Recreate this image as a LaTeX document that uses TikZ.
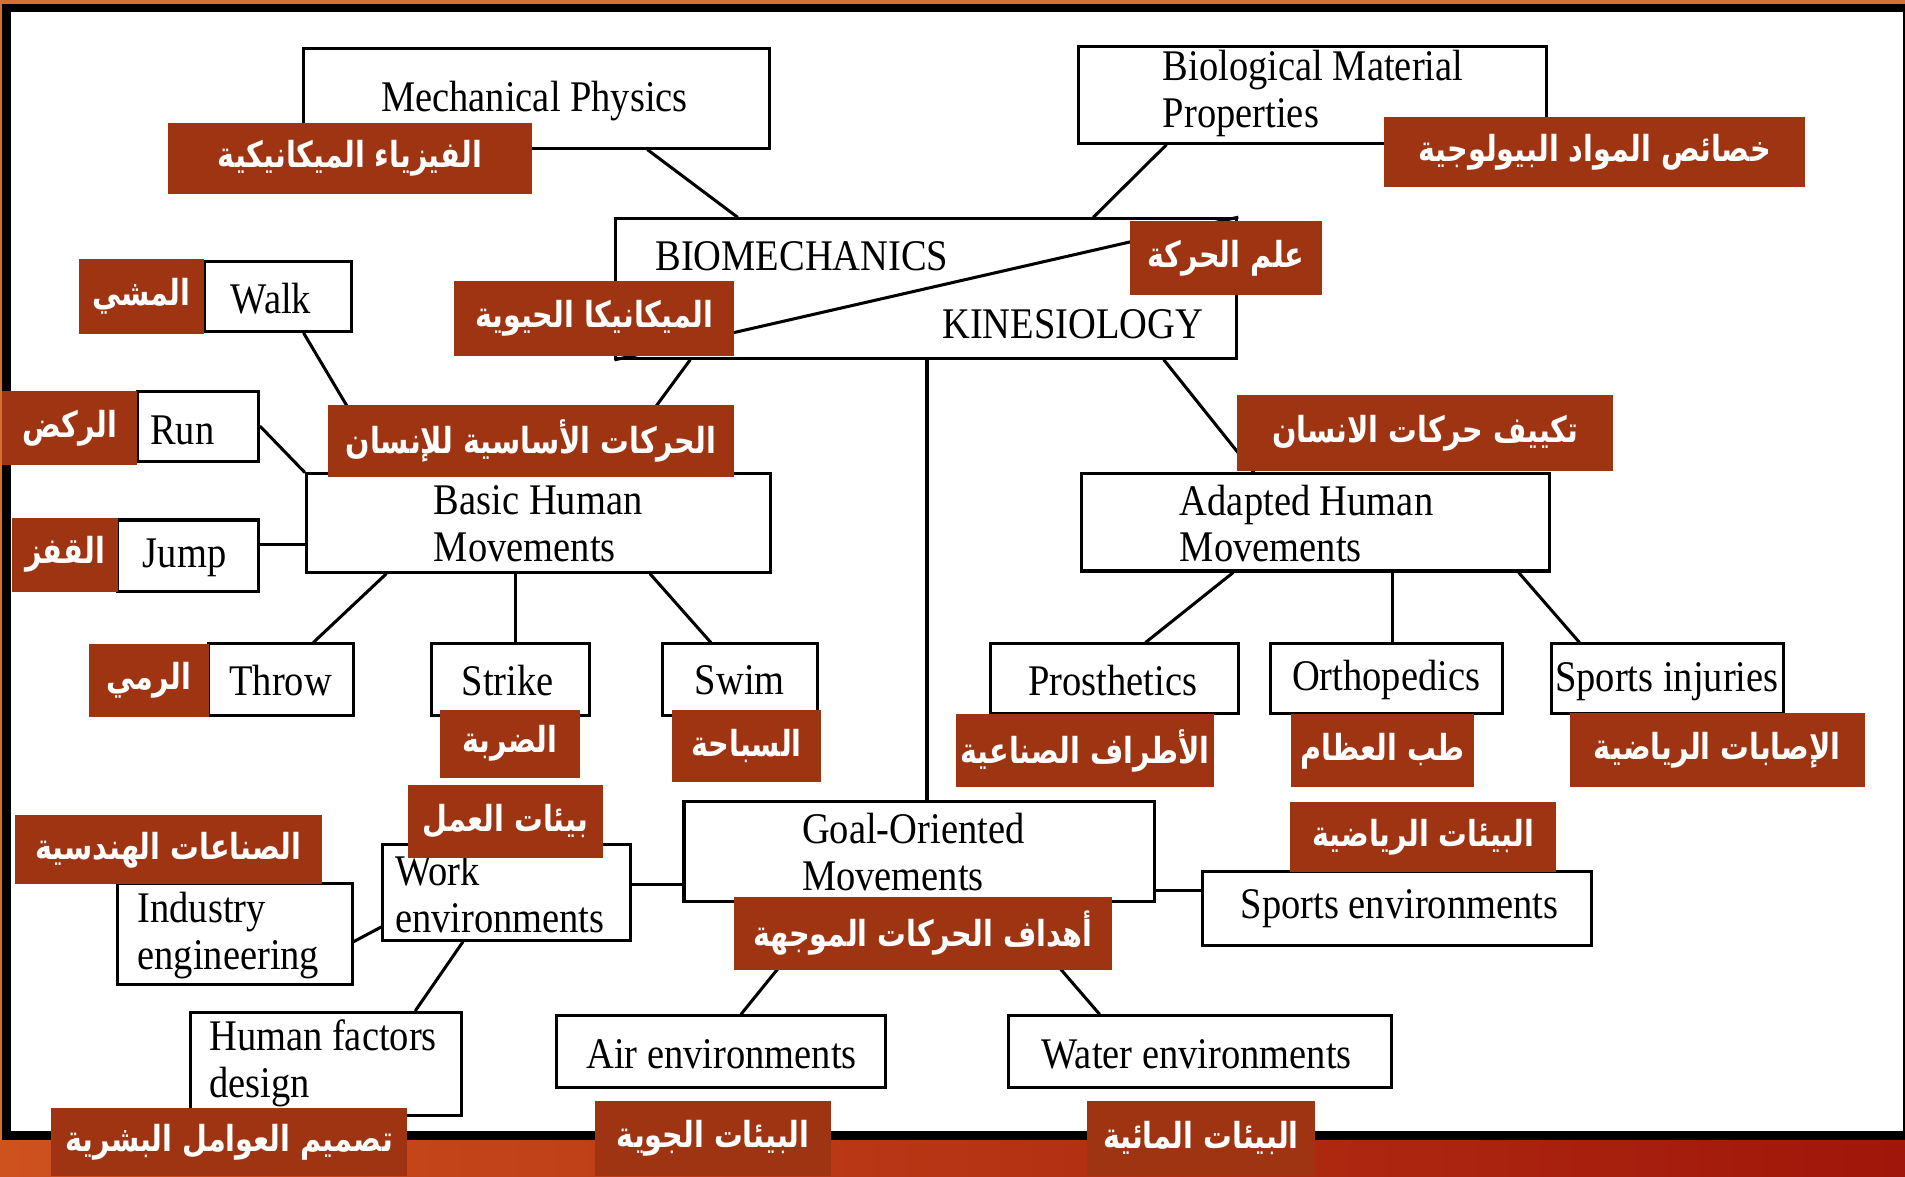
\documentclass[tikz,border=0pt]{standalone}
\usepackage{fontspec}
\setmainfont{Liberation Serif}[FakeStretch=0.88]
\newfontfamily\arabicfont[Script=Arabic, FakeStretch=0.8]{DejaVu Sans}
\TeXXeTstate=1
\newcommand\artxt[1]{{\arabicfont\bfseries\beginR #1\endR}}
\definecolor{labred}{RGB}{158,52,18}
\definecolor{topor}{RGB}{214,112,50}
\definecolor{botl}{RGB}{206,82,30}
\definecolor{botr}{RGB}{160,22,10}
\pgfdeclarelayer{bg}
\pgfdeclarelayer{lines}
\pgfsetlayers{bg,lines,main}
\tikzset{
  box/.style={draw, line width=2.5pt, fill=white, inner sep=0pt},
  btxt/.style={inner sep=0pt, font=\fontsize{36}{38.5}\selectfont},
  btxtl/.style={btxt, anchor=west, align=left},
  lab/.style={fill=labred, text=white, inner sep=0pt, font=\fontsize{29.5}{32}\selectfont},
  conn/.style={line width=2.5pt, line cap=round},
}
\begin{document}
\begin{tikzpicture}[x=1pt,y=-1pt]
\useasboundingbox (0,0) rectangle (1568,968);
\begin{pgfonlayer}{bg}
\fill[black] (0,0) rectangle (1568,968);
\fill[topor] (0,0) rectangle (1568,3);
\fill[topor] (0,0) rectangle (2,968);
\shade[left color=botl, right color=botr] (0,939) rectangle (1568,968);
\fill[white] (9,10) rectangle (1566,931);
\end{pgfonlayer}

% boxes
\node[box, minimum width=383pt, minimum height=82pt] (mech) at (441.5,81) {};
\node[btxt] (mecht) at (440,83) {Mechanical Physics};
\node[box, minimum width=385pt, minimum height=80pt] (biom) at (1080.5,78) {};
\node[btxtl] (biomt) at (957,77) {Biological Material\\Properties};
\node[box, minimum width=511pt, minimum height=115pt] (bio) at (762.5,237.5) {};
\node[btxt] (biot1) at (660,211) {BIOMECHANICS};
\node[btxt] (biot2) at (883,267) {KINESIOLOGY};
\node[box, minimum width=121pt, minimum height=58pt] (walk) at (228.5,244) {};
\node[btxt] (walkt) at (223,246) {Walk};
\node[box, minimum width=100pt, minimum height=58pt] (run) at (163,351) {};
\node[btxt] (runt) at (150,354) {Run};
\node[box, minimum width=116pt, minimum height=59pt] (jump) at (155,457.5) {};
\node[btxt] (jumpt) at (152,459) {Jump};
\node[box, minimum width=382pt, minimum height=81pt] (basic) at (443,430.5) {};
\node[btxtl] (basict) at (357,431) {Basic Human\\Movements};
\node[box, minimum width=119pt, minimum height=59pt] (throw) at (231.5,559.5) {};
\node[btxt] (throwt) at (231,560) {Throw};
\node[box, minimum width=130pt, minimum height=59pt] (strike) at (420,559.5) {};
\node[btxt] (striket) at (418,560) {Strike};
\node[box, minimum width=128pt, minimum height=59pt] (swim) at (609,559.5) {};
\node[btxt] (swimt) at (609,560) {Swim};
\node[box, minimum width=385pt, minimum height=80pt] (adapt) at (1082.5,430) {};
\node[btxtl] (adaptt) at (971,431) {Adapted Human\\Movements};
\node[box, minimum width=204pt, minimum height=57pt] (prost) at (917,558.5) {};
\node[btxt] (prostt) at (916,560) {Prosthetics};
\node[box, minimum width=191pt, minimum height=57pt] (ortho) at (1141.5,558.5) {};
\node[btxt] (orthot) at (1141,560) {Orthopedics};
\node[box, minimum width=191pt, minimum height=57pt] (sinj) at (1372.5,558.5) {};
\node[btxt] (sinjt) at (1372,561) {Sports injuries};
\node[box, minimum width=387pt, minimum height=82pt] (goal) at (756.5,701) {};
\node[btxtl] (goalt) at (660,701) {Goal-Oriented\\Movements};
\node[box, minimum width=204pt, minimum height=79pt] (work) at (417,734.5) {};
\node[btxtl] (workt) at (325,736) {Work\\environments};
\node[box, minimum width=193pt, minimum height=83pt] (indus) at (193.5,768.5) {};
\node[btxtl] (indust) at (113,770) {Industry\\engineering};
\node[box, minimum width=223pt, minimum height=85pt] (hfd) at (268.5,875.5) {};
\node[btxtl] (hfdt) at (172,875) {Human factors\\design};
\node[box, minimum width=320pt, minimum height=61pt] (senv) at (1150,747.5) {};
\node[btxt] (senvt) at (1152,748) {Sports environments};
\node[box, minimum width=271pt, minimum height=59pt] (air) at (593.5,865.5) {};
\node[btxt] (airt) at (594,868) {Air environments};
\node[box, minimum width=315pt, minimum height=59pt] (water) at (987.5,865.5) {};
\node[btxt] (watert) at (985,868) {Water environments};

% connectors
\begin{pgfonlayer}{lines}
\draw[conn] ([xshift=91.5pt]mech.south) -- ([xshift=-155.5pt]bio.north);
\draw[conn] ([xshift=-120.5pt]biom.south) -- ([xshift=137.5pt]bio.north);
\draw[conn] ([xshift=-194.5pt]bio.south) -- ([xshift=57pt]basic.north);
\draw[conn] ([xshift=195.5pt]bio.south) -- ([xshift=-50.5pt]adapt.north);
\draw[conn] ([xshift=0.5pt]bio.south) -- ([xshift=6.5pt]goal.north);
\draw[conn] ([xshift=21.5pt]walk.south) -- ([xshift=-125pt]basic.north);
\draw[conn] (run.east) -- (basic.north west);
\draw[conn] ([yshift=9.5pt]jump.east) -- ([yshift=-17.5pt]basic.west);
\draw[conn] ([xshift=-125pt]basic.south) -- ([xshift=26.5pt]throw.north);
\draw[conn] ([xshift=-19pt]basic.south) -- ([xshift=4pt]strike.north);
\draw[conn] ([xshift=92pt]basic.south) -- ([xshift=-24pt]swim.north);
\draw[conn] ([xshift=-67.5pt]adapt.south) -- ([xshift=26pt]prost.north);
\draw[conn] ([xshift=63.5pt]adapt.south) -- ([xshift=4.5pt]ortho.north);
\draw[conn] ([xshift=167.5pt]adapt.south) -- ([xshift=-72.5pt]sinj.north);
\draw[conn] ([yshift=-27pt]goal.west) -- ([yshift=6.5pt]work.east);
\draw[conn] ([yshift=-28.5pt]work.west) -- ([yshift=-6.5pt]indus.east);
\draw[conn] ([xshift=-36pt]work.south) -- ([xshift=73.5pt]hfd.north);
\draw[conn] ([yshift=-32pt]goal.east) -- ([yshift=14.5pt]senv.west);
\draw[conn] ([xshift=-72.5pt]goal.south) -- ([xshift=16.5pt]air.north);
\draw[conn] ([xshift=69.5pt]goal.south) -- ([xshift=-82.5pt]water.north);
\end{pgfonlayer}
\draw[line width=2.5pt] (bio.south west) -- (bio.north east);

% Arabic labels
\node[lab, minimum width=300pt, minimum height=59pt] (lmech) at (288,130.5) {\artxt{الفيزياء  الميكانيكية}};
\node[lab, minimum width=347pt, minimum height=58pt] (lbiom) at (1312.5,125) {\artxt{خصائص المواد البيولوجية}};
\node[lab, minimum width=158pt, minimum height=61pt] (lkin) at (1009,212.5) {\artxt{علم الحركة}};
\node[lab, minimum width=230pt, minimum height=62pt] (lbio) at (489,262) {\artxt{الميكانيكا الحيوية}};
\node[lab, minimum width=334pt, minimum height=60pt] (lbasic) at (437,363) {\artxt{الحركات الأساسية للإنسان}};
\node[lab, minimum width=310pt, minimum height=63pt] (ladapt) at (1173,356.5) {\artxt{تكييف حركات الانسان}};
\node[lab, minimum width=103pt, minimum height=62pt] (lwalk) at (116.5,244) {\artxt{المشي}};
\node[lab, minimum width=111pt, minimum height=61pt] (lrun) at (57.5,352.5) {\artxt{الركض}};
\node[lab, minimum width=87pt, minimum height=61pt] (ljump) at (53.5,456.5) {\artxt{القفز}};
\node[lab, minimum width=99pt, minimum height=60pt] (lthrow) at (122.5,560) {\artxt{الرمي}};
\node[lab, minimum width=115pt, minimum height=56pt] (lstrike) at (419.5,612) {\artxt{الضربة}};
\node[lab, minimum width=123pt, minimum height=60pt] (lswim) at (614.5,614) {\artxt{السباحة}};
\node[lab, minimum width=212pt, minimum height=60pt] (lprost) at (893,618) {\artxt{الأطراف الصناعية}};
\node[lab, minimum width=150pt, minimum height=60pt] (lortho) at (1138,618) {\artxt{طب العظام}};
\node[lab, minimum width=243pt, minimum height=61pt] (lsinj) at (1413.5,617.5) {\artxt{الإصابات الرياضية}};
\node[lab, minimum width=160pt, minimum height=60pt] (lwork) at (416,676) {\artxt{بيئات العمل}};
\node[lab, minimum width=253pt, minimum height=57pt] (lindus) at (138.5,699.5) {\artxt{الصناعات الهندسية}};
\node[lab, minimum width=311pt, minimum height=60pt] (lgoal) at (759.5,768) {\artxt{أهداف الحركات الموجهة}};
\node[lab, minimum width=219pt, minimum height=58pt] (lsenv) at (1171.5,689) {\artxt{البيئات الرياضية}};
\node[lab, minimum width=293pt, minimum height=56pt] (lhfd) at (188.5,940) {\artxt{تصميم العوامل البشرية}};
\node[lab, minimum width=194pt, minimum height=62pt] (lair) at (587,937) {\artxt{البيئات الجوية}};
\node[lab, minimum width=187pt, minimum height=62pt] (lwater) at (988.5,937) {\artxt{البيئات المائية}};
\end{tikzpicture}
\end{document}
